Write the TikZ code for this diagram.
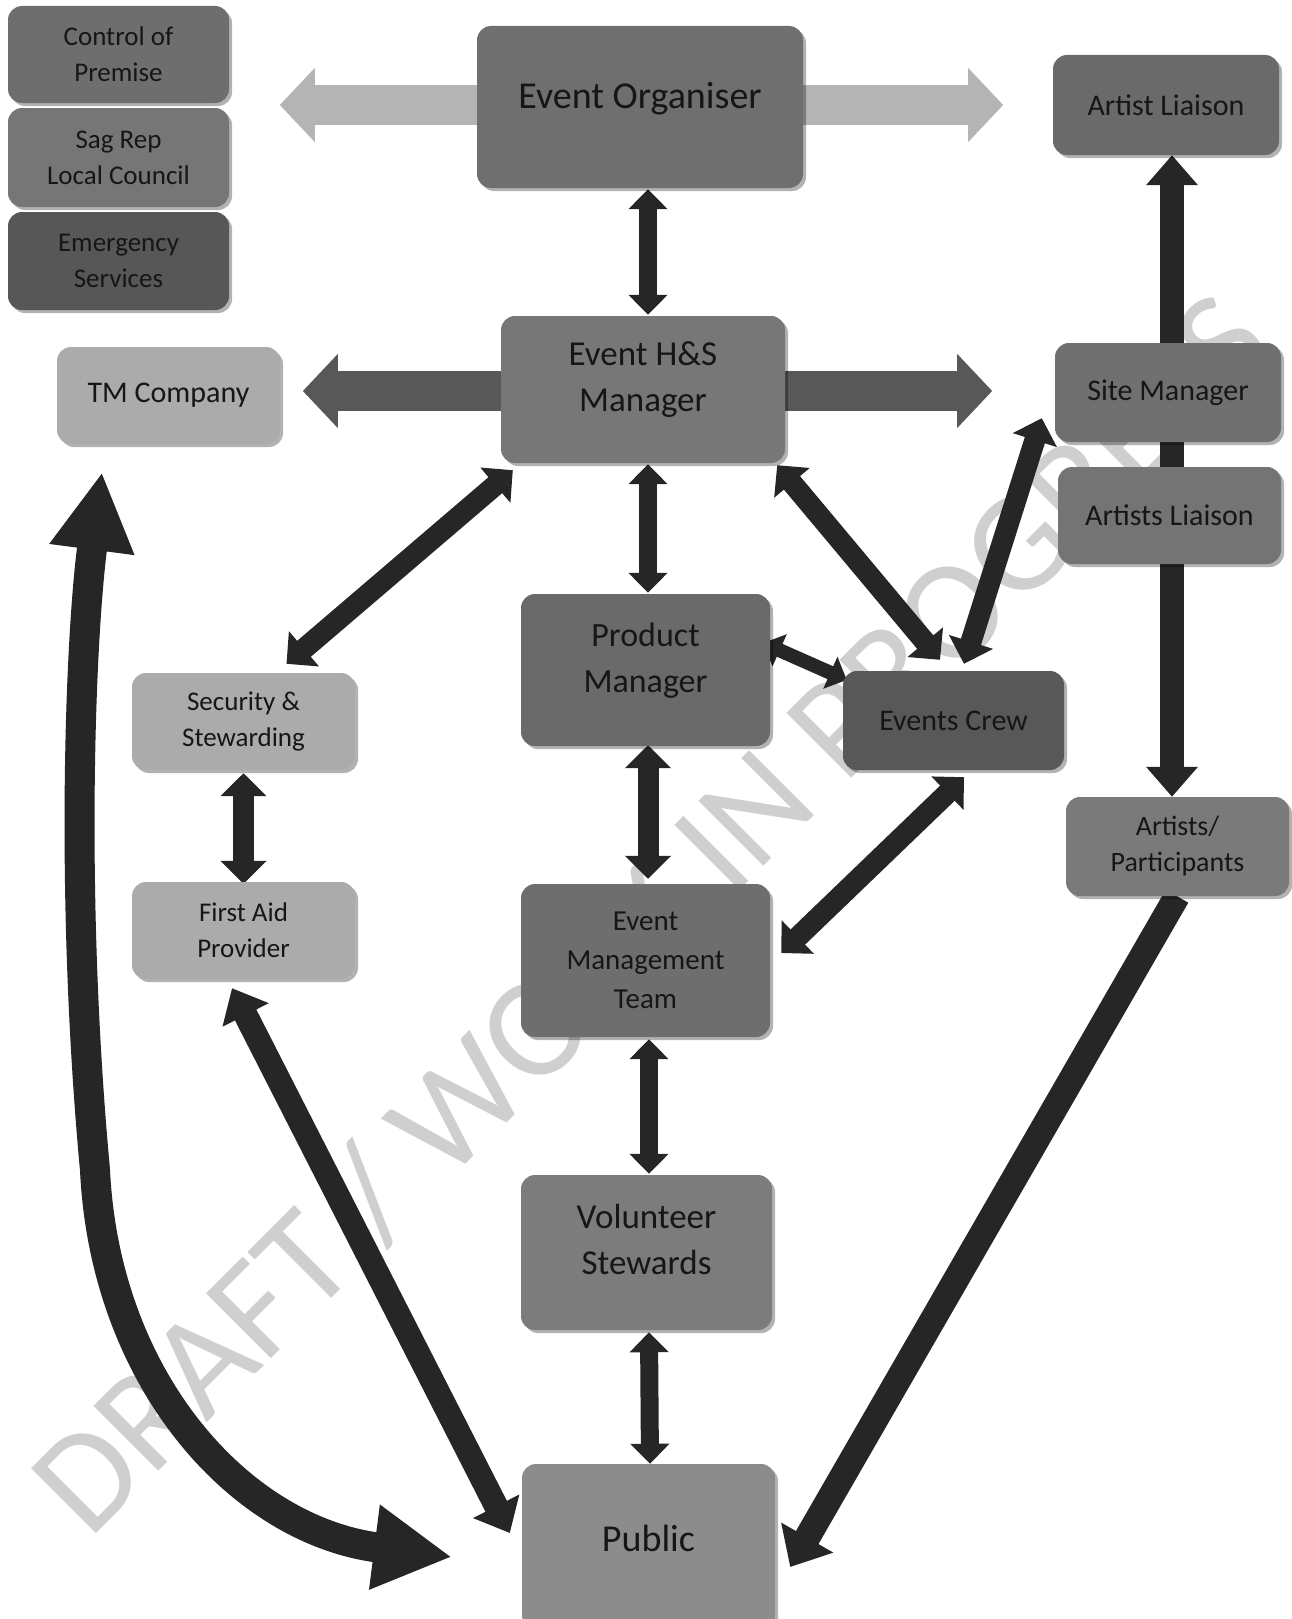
\documentclass[tikz,border=0pt]{standalone}
\usepackage{fontspec}
\setmainfont{Carlito}
\usetikzlibrary{arrows.meta,calc,shadows}
\definecolor{txt}{HTML}{161616}
\definecolor{ac}{HTML}{262626}
\definecolor{wmc}{HTML}{CFCFCF}
\definecolor{orgarr}{HTML}{B4B4B4}
\definecolor{hsarr}{HTML}{585858}
\definecolor{cA}{HTML}{6E6E6E}
\definecolor{cB}{HTML}{767676}
\definecolor{cC}{HTML}{575757}
\definecolor{cL}{HTML}{ABABAB}
\definecolor{cO}{HTML}{6F6F6F}
\definecolor{cH}{HTML}{777777}
\definecolor{cP}{HTML}{6A6A6A}
\definecolor{cE}{HTML}{6E6E6E}
\definecolor{cV}{HTML}{7C7C7C}
\definecolor{cU}{HTML}{8C8C8C}
\definecolor{cR}{HTML}{707070}
\definecolor{cS}{HTML}{747474}
\definecolor{cW}{HTML}{585858}
\definecolor{cT}{HTML}{7A7A7A}
\newcommand\liftup[2]{\raisebox{#1}[\height][\depth]{\begin{tabular}{@{}c@{}}#2\end{tabular}}}
\newcommand\fs[2]{\fontsize{#1}{#2}\selectfont}
\pgfdeclarelayer{bglayer}
\pgfdeclarelayer{wmlayer}
\pgfdeclarelayer{arrlayer}
\pgfsetlayers{bglayer,wmlayer,arrlayer,main}
\tikzset{
  box/.style={rounded corners=14pt, fill=#1, draw=none, text=txt, align=center, inner sep=0pt,
    drop shadow={shadow xshift=3pt, shadow yshift=-3pt, opacity=0.3, fill=black}},
  thinarr/.style={draw=ac, line width=18pt, >={Triangle[width=38pt,length=20pt]}, <->},
  midarr/.style={draw=ac, line width=21pt, >={Triangle[width=45pt,length=23pt]}, <->},
  wideb/.style={draw=ac, line width=24pt, >={Triangle[width=50pt,length=30pt]}, <->},
  blockarr/.style={draw=#1, line width=40pt, >={Triangle[width=72pt,length=35pt]}, <->},
}
\begin{document}
\begin{tikzpicture}[x=1pt,y=-1pt]
\useasboundingbox (0,0) rectangle (1291,1619);
\begin{pgfonlayer}{bglayer}
\fill[white] (0,0) rectangle (1291,1619);
\end{pgfonlayer}

% ---------- boxes ----------
\node[box=cA, minimum width=221pt, minimum height=97pt, font=\fs{27}{36}] (ctrl) at (118.5,54.5) {Control of\\Premise};
\node[box=cB, minimum width=221pt, minimum height=99pt, font=\fs{27}{36}] (sag) at (118.5,157.5) {Sag Rep\\Local Council};
\node[box=cC, minimum width=221pt, minimum height=98pt, font=\fs{27}{36}] (emer) at (118.5,261) {Emergency\\Services};
\node[box=cL, minimum width=223pt, minimum height=97pt, font=\fs{30}{38}] (tm) at (168.5,395.5) {TM Company};
\node[box=cO, minimum width=326pt, minimum height=162pt, font=\fs{38}{48}] (org) at (640,107) {\liftup{8pt}{Event Organiser}};
\node[box=cP, minimum width=226pt, minimum height=100pt, font=\fs{30}{38}] (al) at (1166,105) {Artist Liaison};
\node[box=cH, minimum width=284pt, minimum height=147pt, font=\fs{35}{46}] (hs) at (643,389.5) {\liftup{10pt}{Event H\&S\\Manager}};
\node[box=cR, minimum width=226pt, minimum height=99pt, font=\fs{30}{38}] (site) at (1168,392.5) {Site Manager};
\node[box=cS, minimum width=223pt, minimum height=97pt, font=\fs{30}{38}] (als) at (1169.5,515.5) {Artists Liaison};
\node[box=cP, minimum width=249pt, minimum height=152pt, font=\fs{34}{46}] (pm) at (645.5,670) {\liftup{10pt}{Product\\Manager}};
\node[box=cL, minimum width=223pt, minimum height=97pt, font=\fs{27}{36}] (sec) at (243.5,721.5) {Security \&\\Stewarding};
\node[box=cW, minimum width=221pt, minimum height=99pt, font=\fs{30}{38}] (crew) at (953.5,720.5) {Events Crew};
\node[box=cT, minimum width=223pt, minimum height=99pt, font=\fs{28}{36}] (ap) at (1177.5,846.5) {Artists/\\Participants};
\node[box=cL, minimum width=223pt, minimum height=97pt, font=\fs{27}{36}] (fa) at (243.5,930.5) {First Aid\\Provider};
\node[box=cE, minimum width=249pt, minimum height=153pt, font=\fs{29}{39}] (emt) at (645.5,960.5) {Event\\Management\\Team};
\node[box=cV, minimum width=251pt, minimum height=155pt, font=\fs{35}{46}] (vol) at (646.5,1252.5) {\liftup{10pt}{Volunteer\\Stewards}};
\node[box=cU, minimum width=253pt, minimum height=165pt, font=\fs{38}{48}] (pub) at (648.5,1546.5) {\liftup{5pt}{Public}};

% ---------- watermark ----------
\begin{pgfonlayer}{wmlayer}
\node[rotate=45, anchor=base west, inner sep=0pt, text=wmc, font=\fs{143}{143}] (wmk) at (89,1541) {DRAFT / WORK IN PROGRESS};
\end{pgfonlayer}

% ---------- connectors ----------
\begin{pgfonlayer}{arrlayer}
\coordinate (orgL) at ($(org.west)+(-197,-2)$);
\coordinate (orgR) at ($(org.east)+(200,-2)$);
\coordinate (hsL) at ($(hs.west)+(-198,1.5)$);
\coordinate (hsR) at ($(hs.east)+(207,1.5)$);
\draw[blockarr=orgarr] (orgL) -- (orgR);
\draw[blockarr=hsarr] (hsL) -- (hsR);

\draw[thinarr] ($(org.south)+(8,1)$) -- ($(hs.north)+(5,-1)$);
\draw[thinarr] ($(hs.south)+(5,1)$) -- ($(pm.north)+(2.5,-1)$);
\draw[midarr] ($(pm.south)+(2.5,-1)$) -- ($(emt.north)+(2.5,-5)$);
\draw[thinarr] ($(emt.south)+(3.5,2)$) -- ($(vol.north)+(2.5,-1)$);
\draw[thinarr] ($(vol.south)+(2.5,2)$) -- ($(pub.north)+(1.5,0)$);
\draw[midarr] ($(sec.south)+(0,3)$) -- ($(fa.north)+(0,2)$);
\draw[midarr] ($(hs.south west)+(12,7)$) -- ($(sec.north)+(43,-9)$);
\draw[midarr] ($(hs.south east)+(-8,2)$) -- ($(crew.north)+(-13.5,-11)$);
\draw[midarr] ($(site.south west)+(-13,-24)$) -- ($(crew.north)+(10.5,-7)$);
\draw[draw=ac, line width=14pt, >={Triangle[width=34pt,length=18pt]}, <->] ($(pm.east)+(-7,-27)$) -- ($(crew.west)+(4,-40.5)$);
\draw[midarr] ($(crew.south)+(10.5,7)$) -- ($(emt.east)+(11,-7.5)$);
\draw[wideb] ($(fa.south)+(-11.5,9)$) -- ($(pub.west)+(-12,-13.5)$);
\draw[draw=ac, line width=26pt, >={Triangle[width=58pt,length=34pt]}, ->] ($(ap.south)+(-0.5,0)$) -- ($(pub.east)+(15,20.5)$);
\draw[wideb] ($(al.south)+(6,0)$) -- ($(ap.north)+(-5.5,0)$);
\draw[draw=ac, line width=30pt, >={Triangle[width=80pt,length=78pt]}, <->]
  ($(tm.south)+(-66.5,28)$) .. controls (80,640) and (70,900) .. (95,1170)
  .. controls (105,1380) and (240,1530) .. ($(pub.west)+(-70,10.5)$);
\end{pgfonlayer}
\end{tikzpicture}
\end{document}
